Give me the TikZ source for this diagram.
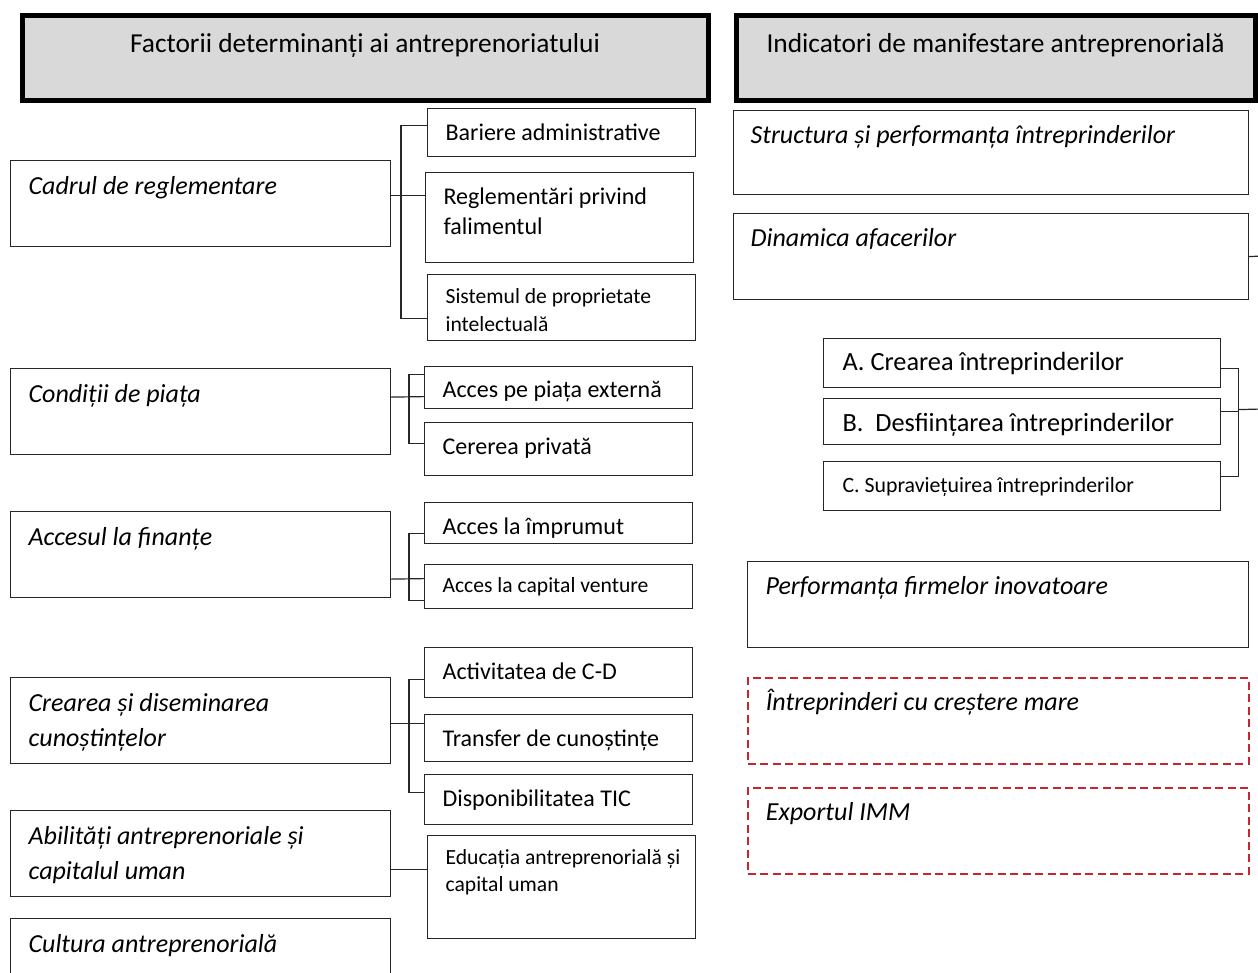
\documentclass[tikz,border=0pt]{standalone}
\usepackage{fontspec}
\setmainfont{Carlito}
\usepackage{tikz}
\definecolor{hdrgray}{HTML}{D9D9D9}
\definecolor{dashred}{HTML}{C8262E}

\begin{document}
\begin{tikzpicture}[x=1pt,y=-1pt,
    plain/.style={execute at begin node={\spaceskip=\fontdimen2\font\relax}},
    hdr/.style={plain, draw=black, line width=5pt, fill=hdrgray, anchor=north west,
      inner xsep=0pt, inner ysep=0pt, align=center, text height=37pt,
      text depth=48pt, font=\fontsize{27.4}{33}\selectfont},
    factor/.style={plain, draw=black!85, line width=1.2pt, anchor=north west,
      inner xsep=18pt, inner ysep=0pt, text width=344pt, align=left,
      text height=34pt, text depth=52pt, font=\fontsize{26}{35}\selectfont\itshape},
    sub/.style={plain, draw=black!85, line width=1.2pt, anchor=north west,
      inner xsep=18pt, inner ysep=0pt, text width=232pt, align=left,
      text height=32pt, font=\fontsize{24}{30}\selectfont},
    subsmall/.style={sub, font=\fontsize{21.6}{28}\selectfont},
    indic/.style={factor, text width=465pt, text height=33pt, text depth=53pt},
    dyn/.style={sub, inner xsep=19pt, text width=359pt,
      font=\fontsize{26.3}{30}\selectfont},
    growth/.style={indic, draw=dashred, line width=1.7pt, dash pattern=on 8pt off 4.5pt},
    link/.style={draw=black!85, line width=1.2pt}]
  \useasboundingbox (0,0) rectangle (1258,972);
  \clip (0,0) rectangle (1258,972);
  % headers
  \node[hdr, text width=686pt] (hfact) at (19.5,12.5) {Factorii determinanți ai antreprenoriatului};
  \node[hdr, text width=519pt] (hind) at (733.5,12.5) {Indicatori de manifestare antreprenorială};
  % determinant factors
  \node[factor] (cadru) at (10,160) {Cadrul de reglementare};
  \node[factor] (conditii) at (10,368) {Condiții de piața};
  \node[factor] (finante) at (10,511) {Accesul la finanțe};
  \node[factor] (creare) at (10,677) {Crearea și diseminarea\\cunoștințelor};
  \node[factor] (abilitati) at (10,810) {Abilități antreprenoriale și\\capitalul uman};
  \node[factor, text depth=90pt] (cultura) at (10,918) {Cultura antreprenorială};
  % sub-factors
  \node[sub, text depth=16pt] (bariere) at (427,108) {Bariere administrative};
  \node[sub, text depth=58pt] (faliment) at (425,172) {Reglementări privind\\falimentul};
  \node[subsmall, text height=29pt, text depth=37pt] (sistem) at (427,274) {Sistemul de proprietate\\intelectuală};
  \node[sub, text height=31pt, text depth=11pt] (externa) at (424,366) {Acces pe piața externă};
  \node[sub, text depth=21pt] (privata) at (424,422) {Cererea privată};
  \node[sub, text depth=9pt] (imprumut) at (424,502) {Acces la împrumut};
  \node[subsmall, text height=28pt, text depth=16pt] (venture) at (424,564) {Acces la capital venture};
  \node[sub, text depth=18pt] (cd) at (424,647) {Activitatea de C-D};
  \node[sub, text depth=15pt] (transfer) at (424,714) {Transfer de cunoștințe};
  \node[sub, text depth=18pt] (tic) at (424,774) {Disponibilitatea TIC};
  \node[subsmall, font=\fontsize{21.6}{27}\selectfont, text height=29pt, text depth=74pt] (educatie) at (427,835) {\mbox{Educația antreprenorială și}\\capital uman};
  % indicators
  \node[indic, inner xsep=17pt, text width=481pt, text depth=51pt] (structura) at (733,110) {Structura și performanța întreprinderilor};
  \node[indic, inner xsep=17pt, text width=481pt] (dinamica) at (733,213) {Dinamica afacerilor};
  \node[dyn, text depth=17pt] (crA) at (823,338) {A. Crearea întreprinderilor};
  \node[dyn, text height=33pt, text depth=13pt] (crB) at (823,398) {B.\ \ Desființarea întreprinderilor};
  \node[dyn, font=\fontsize{21.8}{28}\selectfont, text height=31pt, text depth=18pt] (crC) at (823,461) {C. Supraviețuirea întreprinderilor};
  \node[indic] (inov) at (747,561) {Performanța firmelor inovatoare};
  \node[growth] (crestere) at (747,677) {Întreprinderi cu creștere mare};
  \node[growth] (export) at (747,787) {Exportul IMM};
  % connectors, left side
  \draw[link] ([yshift=8pt]cadru.east) -- ([yshift=22pt]faliment.west);
  \draw[link] ([yshift=7pt]bariere.west) -- ++(-26,0) |- ([yshift=-11pt]sistem.west);
  \draw[link] ([yshift=14.5pt]conditii.east) -- ([yshift=-9pt]externa.west);
  \draw[link] ([yshift=13pt]externa.west) -- ++(-15,0) |- ([yshift=5.5pt]privata.west);
  \draw[link] ([yshift=-24.5pt]finante.east) -- ([yshift=8pt]venture.west);
  \draw[link] ([yshift=-10.5pt]imprumut.west) -- ++(-15,0) |- ([yshift=-14pt]venture.west);
  \draw[link] ([yshift=-3pt]creare.east) -- ([yshift=14.5pt]transfer.west);
  \draw[link] ([yshift=-7pt]cd.west) -- ++(-15,0) |- ([yshift=7pt]tic.west);
  \draw[link] ([yshift=-16pt]abilitati.east) -- ([yshift=17.5pt]educatie.west);
  % connectors, right side
  \coordinate (dynout) at (1262,256);
  \coordinate (abcout) at (1262,409);
  \draw[link] (dinamica.east) -- (dynout);
  \draw[link] ([yshift=-5.5pt]crA.east) -- ++(17,0) |- ([yshift=9.5pt]crC.east);
  \draw[link] ([yshift=10pt]crB.east) -- ++(17,0);
  \draw[link] ([xshift=17pt,yshift=12pt]crB.east) -- (abcout);
\end{tikzpicture}
\end{document}
